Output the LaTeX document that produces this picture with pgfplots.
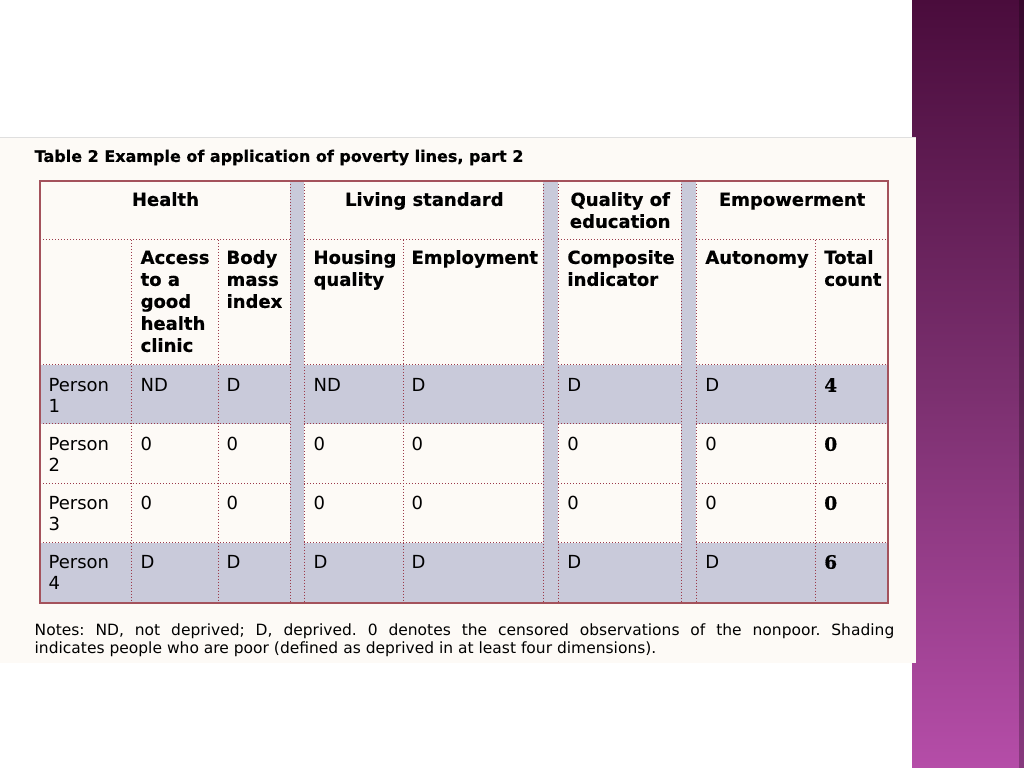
\documentclass[border=0pt]{standalone}
\usepackage{pgfplots}
\pgfplotsset{compat=1.18}
\usepackage{fontspec}
\setmainfont{DejaVu Sans}[BoldFeatures={FakeBold=0.5}]
\newfontfamily\numfont{DejaVu Serif}[BoldFeatures={FakeBold=0.5}]
\frenchspacing
\definecolor{panel}{HTML}{FDFAF6}
\definecolor{rowshade}{HTML}{C9CADA}
\definecolor{brd}{HTML}{A4525C}
\definecolor{dotc}{HTML}{9B3A4A}
\definecolor{ptop}{HTML}{4A0C3C}
\definecolor{pmid}{HTML}{7A2F6E}
\definecolor{pbot}{HTML}{B54DA8}
\newcommand{\hd}{\fontsize{18}{21}\selectfont\bfseries}
\newcommand{\bd}{\fontsize{18}{21}\selectfont}
\newcommand{\nm}{\numfont\fontsize{18.5}{21}\selectfont\bfseries}
\tikzset{hl/.style={anchor=base west, inner sep=0, font=\hd},
         hc/.style={anchor=base, inner sep=0, font=\hd},
         bl/.style={anchor=base west, inner sep=0, font=\bd},
         nl/.style={anchor=base west, inner sep=0, font=\nm},
         dl/.style={dotc, line width=1pt, dash pattern=on 1pt off 2pt}}
\begin{document}
\begin{tikzpicture}
\begin{axis}[
  width=1024pt, height=768pt, scale only axis,
  xmin=0, xmax=1024, ymin=0, ymax=768, y dir=reverse,
  axis lines=none, ticks=none, clip=false]
% background
\fill[white] (axis cs:0,0) rectangle (axis cs:1024,768);
\shade[top color=ptop, bottom color=pbot, middle color=pmid] (axis cs:912,0) rectangle (axis cs:1024,768);
\fill[black, opacity=0.25] (axis cs:1019,0) rectangle (axis cs:1024,768);
% panel
\fill[panel] (axis cs:0,137) rectangle (axis cs:916,663);
\draw[gray!25, line width=1pt] (axis cs:0,137.5) -- (axis cs:916,137.5);
% title
\node[anchor=base west, inner sep=0, font=\fontsize{16}{19}\selectfont\bfseries] at (axis cs:34,162) {Table 2 Example of application of poverty lines, part 2};
% table background
\fill[panel] (axis cs:40,181) rectangle (axis cs:888,603);
\fill[rowshade] (axis cs:40,365) rectangle (axis cs:888,424);
\fill[rowshade] (axis cs:40,543) rectangle (axis cs:888,603);
\fill[rowshade] (axis cs:290,181) rectangle (axis cs:304,603);
\fill[rowshade] (axis cs:543,181) rectangle (axis cs:558,603);
\fill[rowshade] (axis cs:681,181) rectangle (axis cs:696,603);
% dotted horizontal lines
\draw[dl] (axis cs:40,240) -- (axis cs:290,240);
\draw[dl] (axis cs:304,240) -- (axis cs:543,240);
\draw[dl] (axis cs:558,240) -- (axis cs:681,240);
\draw[dl] (axis cs:696,240) -- (axis cs:888,240);
\draw[dl] (axis cs:40,365) -- (axis cs:290,365);
\draw[dl] (axis cs:304,365) -- (axis cs:543,365);
\draw[dl] (axis cs:558,365) -- (axis cs:681,365);
\draw[dl] (axis cs:696,365) -- (axis cs:888,365);
\draw[dl] (axis cs:40,424) -- (axis cs:290,424);
\draw[dl] (axis cs:304,424) -- (axis cs:543,424);
\draw[dl] (axis cs:558,424) -- (axis cs:681,424);
\draw[dl] (axis cs:696,424) -- (axis cs:888,424);
\draw[dl] (axis cs:40,484) -- (axis cs:290,484);
\draw[dl] (axis cs:304,484) -- (axis cs:543,484);
\draw[dl] (axis cs:558,484) -- (axis cs:681,484);
\draw[dl] (axis cs:696,484) -- (axis cs:888,484);
\draw[dl] (axis cs:40,543) -- (axis cs:290,543);
\draw[dl] (axis cs:304,543) -- (axis cs:543,543);
\draw[dl] (axis cs:558,543) -- (axis cs:681,543);
\draw[dl] (axis cs:696,543) -- (axis cs:888,543);
% dotted vertical lines
\draw[dl] (axis cs:131,240) -- (axis cs:131,603);
\draw[dl] (axis cs:218,240) -- (axis cs:218,603);
\draw[dl] (axis cs:403,240) -- (axis cs:403,603);
\draw[dl] (axis cs:815,240) -- (axis cs:815,603);
\draw[dl] (axis cs:290,181) -- (axis cs:290,603);
\draw[dl] (axis cs:304,181) -- (axis cs:304,603);
\draw[dl] (axis cs:543,181) -- (axis cs:543,603);
\draw[dl] (axis cs:558,181) -- (axis cs:558,603);
\draw[dl] (axis cs:681,181) -- (axis cs:681,603);
\draw[dl] (axis cs:696,181) -- (axis cs:696,603);
\draw[brd, line width=2pt] (axis cs:40,181) rectangle (axis cs:888,603);
% header row 1
\node[hc] at (axis cs:165,206) {Health};
\node[hc] at (axis cs:424,206) {Living standard};
\node[hc] at (axis cs:620,206) {Quality of};
\node[hc] at (axis cs:620,228) {education};
\node[hc] at (axis cs:792,206) {Empowerment};
% header row 2
\node[hl] at (axis cs:140,264) {Access};
\node[hl] at (axis cs:140,286) {to a};
\node[hl] at (axis cs:140,308) {good};
\node[hl] at (axis cs:140,330) {health};
\node[hl] at (axis cs:140,352) {clinic};
\node[hl] at (axis cs:226,264) {Body};
\node[hl] at (axis cs:226,286) {mass};
\node[hl] at (axis cs:226,308) {index};
\node[hl] at (axis cs:313,264) {Housing};
\node[hl] at (axis cs:313,286) {quality};
\node[hl] at (axis cs:411,264) {Employment};
\node[hl] at (axis cs:567,264) {Composite};
\node[hl] at (axis cs:567,286) {indicator};
\node[hl] at (axis cs:705,264) {Autonomy};
\node[hl] at (axis cs:824,264) {Total};
\node[hl] at (axis cs:824,286) {count};
% row 1
\node[bl] at (axis cs:48,392) {Person};
\node[bl] at (axis cs:48,413) {1};
\node[bl] at (axis cs:140,392) {ND};
\node[bl] at (axis cs:226,392) {D};
\node[bl] at (axis cs:313,392) {ND};
\node[bl] at (axis cs:411,392) {D};
\node[bl] at (axis cs:567,392) {D};
\node[bl] at (axis cs:705,392) {D};
\node[nl] at (axis cs:824,392) {4};
% row 2
\node[bl] at (axis cs:48,451) {Person};
\node[bl] at (axis cs:48,472) {2};
\node[bl] at (axis cs:140,451) {0};
\node[bl] at (axis cs:226,451) {0};
\node[bl] at (axis cs:313,451) {0};
\node[bl] at (axis cs:411,451) {0};
\node[bl] at (axis cs:567,451) {0};
\node[bl] at (axis cs:705,451) {0};
\node[nl] at (axis cs:824,451) {0};
% row 3
\node[bl] at (axis cs:48,510) {Person};
\node[bl] at (axis cs:48,531) {3};
\node[bl] at (axis cs:140,510) {0};
\node[bl] at (axis cs:226,510) {0};
\node[bl] at (axis cs:313,510) {0};
\node[bl] at (axis cs:411,510) {0};
\node[bl] at (axis cs:567,510) {0};
\node[bl] at (axis cs:705,510) {0};
\node[nl] at (axis cs:824,510) {0};
% row 4
\node[bl] at (axis cs:48,569) {Person};
\node[bl] at (axis cs:48,590) {4};
\node[bl] at (axis cs:140,569) {D};
\node[bl] at (axis cs:226,569) {D};
\node[bl] at (axis cs:313,569) {D};
\node[bl] at (axis cs:411,569) {D};
\node[bl] at (axis cs:567,569) {D};
\node[bl] at (axis cs:705,569) {D};
\node[nl] at (axis cs:824,569) {6};
% notes
\node[anchor=base west, inner sep=0, font=\fontsize{15.5}{18}\selectfont] at (axis cs:34,636) {\makebox[860pt][s]{Notes: ND, not deprived; D, deprived. 0 denotes the censored observations of the nonpoor. Shading}};
\node[anchor=base west, inner sep=0, font=\fontsize{15.5}{18}\selectfont] at (axis cs:34,654) {indicates people who are poor (defined as deprived in at least four dimensions).};
\end{axis}
\end{tikzpicture}
\end{document}
